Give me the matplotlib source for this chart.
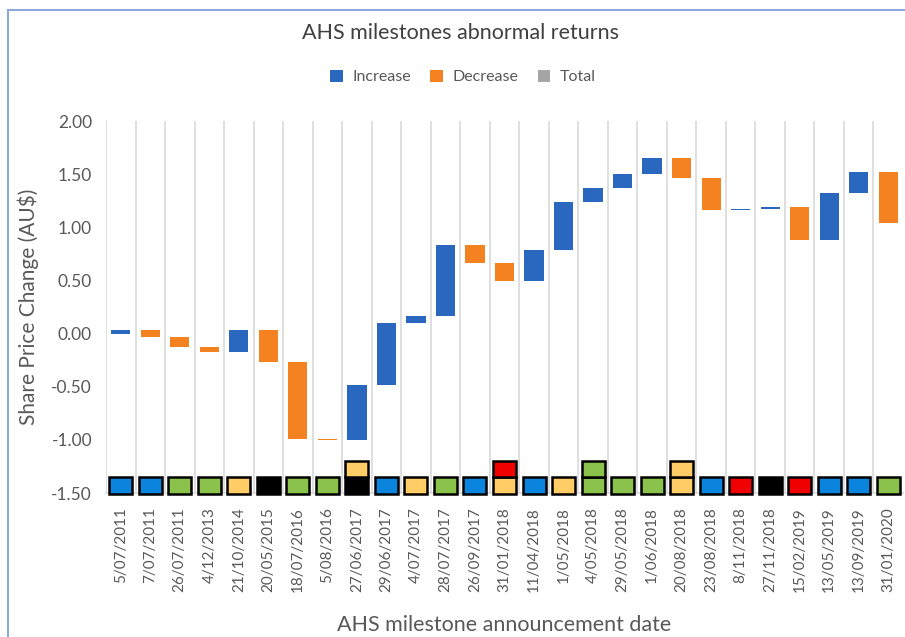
import matplotlib
matplotlib.use("Agg")
import matplotlib.pyplot as plt
from matplotlib.patches import Rectangle, Patch
from matplotlib.lines import Line2D
import numpy as np

plt.rcParams['font.family'] = ['Lato', 'DejaVu Sans']

dates = ["5/07/2011", "7/07/2011", "26/07/2011", "4/12/2013", "21/10/2014",
         "20/05/2015", "18/07/2016", "5/08/2016", "27/06/2017", "29/06/2017",
         "4/07/2017", "28/07/2017", "26/09/2017", "31/01/2018", "11/04/2018",
         "1/05/2018", "4/05/2018", "29/05/2018", "1/06/2018", "20/08/2018",
         "23/08/2018", "8/11/2018", "27/11/2018", "15/02/2019", "13/05/2019",
         "13/09/2019", "31/01/2020"]

changes = [0.03, -0.06, -0.10, -0.04, 0.20,
           -0.30, -0.72, -0.01, 0.52, 0.58,
           0.07, 0.66, -0.17, -0.17, 0.30,
           0.45, 0.13, 0.13, 0.15, -0.19,
           -0.30, 0.008, 0.022, -0.31, 0.44,
           0.20, -0.48]

# milestone category markers (lower square, upper square)
marker_low = ["blue", "blue", "green", "green", "yellow",
              "black", "green", "green", "black", "blue",
              "yellow", "green", "blue", "yellow", "blue",
              "yellow", "green", "green", "green", "yellow",
              "blue", "red", "black", "red", "blue",
              "blue", "green"]
marker_high = [None, None, None, None, None,
               None, None, None, "yellow", None,
               None, None, None, "red", None,
               None, "green", None, None, "yellow",
               None, None, None, None, None,
               None, None]

marker_colors = {"blue": "#0A84DC", "green": "#8BC24C", "yellow": "#FFCC66",
                 "black": "#000000", "red": "#F00000"}
inc_color = "#2A67BF"
dec_color = "#F58220"
tot_color = "#A5A5A5"
text_color = "#595959"

W, H = 905, 637
fig = plt.figure(figsize=(W / 100, H / 100), dpi=100)
ax = fig.add_axes([106 / W, 1 - 493 / H, (903 - 106) / W, (493 - 121) / H])

x = np.arange(len(dates))
ch = np.array(changes)
ends = np.cumsum(ch)
starts = ends - ch
bottoms = np.minimum(starts, ends)
heights = np.abs(ch)
colors = [inc_color if c >= 0 else dec_color for c in ch]
ax.bar(x, heights, bottom=bottoms, width=0.65, color=colors, zorder=3)

ax.set_xlim(-0.5, len(dates) - 0.5)
ax.set_ylim(-1.5, 2.0)
ax.set_yticks(np.arange(-1.5, 2.01, 0.5))
ax.set_yticklabels([f"{v:.2f}" for v in np.arange(-1.5, 2.01, 0.5)])
ax.set_xticks(x)
ax.set_xticklabels(dates, rotation=90)
ax.set_xticks(np.arange(-0.5, len(dates) - 0.5, 1.0), minor=True)
ax.grid(which='minor', axis='x', color='#D9D9D9', linewidth=1.2, zorder=0)
ax.tick_params(axis='both', which='both', length=0)
ax.tick_params(axis='x', pad=10, labelsize=11, labelcolor=text_color)
ax.tick_params(axis='y', pad=10, labelsize=12.5, labelcolor=text_color)
for s in ['top', 'right', 'left']:
    ax.spines[s].set_visible(False)
ax.spines['bottom'].set_color('#D9D9D9')
ax.spines['bottom'].set_linewidth(1.2)

# marker squares
sq_w, sq_h = 0.78, 0.155
for i, (lo, hi) in enumerate(zip(marker_low, marker_high)):
    ax.add_patch(Rectangle((i - sq_w / 2, -1.505), sq_w, sq_h,
                           facecolor=marker_colors[lo], edgecolor='black',
                           linewidth=1.8, clip_on=False, zorder=5))
    if hi is not None:
        ax.add_patch(Rectangle((i - sq_w / 2, -1.505 + sq_h), sq_w, sq_h,
                               facecolor=marker_colors[hi], edgecolor='black',
                               linewidth=1.8, clip_on=False, zorder=5))

ax.set_ylabel("Share Price Change (AU$)", fontsize=15, color=text_color, labelpad=9)
ax.set_xlabel("AHS milestone announcement date", fontsize=15.5, color=text_color, labelpad=17)

fig.text(460 / W, 1 - 33 / H, "AHS milestones abnormal returns", ha='center', va='center',
         fontsize=15.5, color='#404040')

handles = [Patch(facecolor=inc_color), Patch(facecolor=dec_color), Patch(facecolor=tot_color)]
fig.legend(handles, ["Increase", "Decrease", "Total"], loc='center',
           bbox_to_anchor=(463 / W, 1 - 77 / H), ncol=3, frameon=False,
           handlelength=0.8, handleheight=0.8, handletextpad=0.6, columnspacing=1.2,
           prop={'size': 11.5}, labelcolor=text_color)

# outer border
fig.add_artist(Line2D([8 / W, 8 / W], [0, 1 - 10 / H], color='#8EA9DB', linewidth=1.5,
                      transform=fig.transFigure))
fig.add_artist(Line2D([8 / W, 1], [1 - 10 / H, 1 - 10 / H], color='#8EA9DB', linewidth=1.5,
                      transform=fig.transFigure))

fig.savefig("out.png", dpi=100)
